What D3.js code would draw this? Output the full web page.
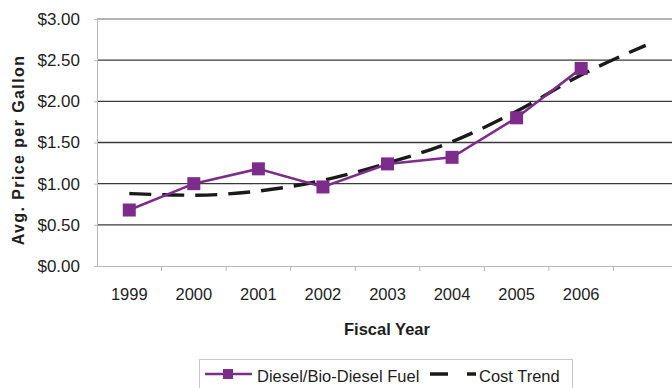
<!DOCTYPE html>
<html>
<head>
<meta charset="utf-8">
<script src="https://cdn.jsdelivr.net/npm/d3@7"></script>
<style>
  html, body { margin: 0; padding: 0; background: #fff; }
  svg { display: block; font-family: "Liberation Sans", Arial, sans-serif; }
</style>
</head>
<body>
<svg id="chart" width="672" height="388"></svg>
<script>
// Fiscal years shown on the x axis; the trend continues one slot further
const years = ["1999", "2000", "2001", "2002", "2003", "2004", "2005", "2006"];
const trendYears = ["1999", "2000", "2001", "2002", "2003", "2004", "2005", "2006", "2007"];
// Average diesel / bio-diesel price per gallon
const dieselPrice = [0.68, 1.00, 1.18, 0.96, 1.24, 1.32, 1.80, 2.40];
// Fitted cost trend
const costTrend = [0.88, 0.86, 0.91, 1.04, 1.25, 1.51, 1.88, 2.32, 2.68];
const yTicks = [0, 0.5, 1, 1.5, 2, 2.5, 3];

const svg = d3.select("#chart");
const plotLeft = 97, plotRight = 678, plotTop = 19, plotBottom = 266;
const ink = "#1e1e1e";

const x = d3.scaleBand().domain(trendYears).range([plotLeft, plotRight]).padding(0);
const y = d3.scaleLinear().domain([0, 3]).range([plotBottom, plotTop]);
const cx = d => x(d) + x.bandwidth() / 2;

// horizontal gridlines
svg.append("g").selectAll("line").data(yTicks.filter(t => t > 0 && t < 3)).join("line")
  .attr("x1", plotLeft).attr("x2", 672)
  .attr("y1", d => y(d)).attr("y2", d => y(d))
  .attr("stroke", "#3a3a3a").attr("stroke-width", 1.4);
// top border
svg.append("line").attr("x1", plotLeft).attr("x2", 672).attr("y1", y(3)).attr("y2", y(3))
  .attr("stroke", "#9a9a9a").attr("stroke-width", 1.3);

// y axis
const yAxis = svg.append("g").attr("transform", `translate(${plotLeft},0)`)
  .call(d3.axisLeft(y).tickValues(yTicks).tickSize(3).tickPadding(14)
    .tickFormat(d => "$" + d3.format(".2f")(d)));
yAxis.select(".domain").attr("stroke", "#b8b8b8");
yAxis.selectAll(".tick line").attr("stroke", "#b8b8b8");
yAxis.selectAll("text").attr("font-size", 17).attr("fill", ink);

// x axis
const xAxis = svg.append("g").attr("transform", `translate(0,${plotBottom})`)
  .call(d3.axisBottom(x).tickValues([]).tickSizeOuter(0));
xAxis.select(".domain").attr("stroke", "#b8b8b8");
xAxis.selectAll(".sep").data(trendYears.slice(1)).join("line")
  .attr("class", "sep")
  .attr("x1", d => x(d)).attr("x2", d => x(d))
  .attr("y1", 0).attr("y2", 5).attr("stroke", "#b8b8b8");
svg.append("g").selectAll("text").data(years).join("text")
  .attr("x", d => cx(d)).attr("y", 300)
  .attr("text-anchor", "middle").attr("font-size", 16.5).attr("fill", ink)
  .text(d => d);

// axis titles
svg.append("text").attr("x", 387).attr("y", 335).attr("text-anchor", "middle")
  .attr("font-size", 16.5).attr("font-weight", "bold").attr("fill", ink).text("Fiscal Year");
svg.append("text").attr("transform", "translate(24,150) rotate(-90)")
  .attr("text-anchor", "middle").attr("font-size", 16).attr("font-weight", "bold")
  .attr("letter-spacing", 1.4).attr("fill", ink).text("Avg. Price per Gallon");

// cost trend (dashed)
svg.append("path").datum(costTrend)
  .attr("fill", "none").attr("stroke", "#1a1a1a").attr("stroke-width", 3.4)
  .attr("stroke-dasharray", "22,11")
  .attr("d", d3.line().x((d, i) => cx(trendYears[i])).y(d => y(d)).curve(d3.curveMonotoneX));

// diesel price series
const purple = "#7d2c8c";
svg.append("path").datum(dieselPrice)
  .attr("fill", "none").attr("stroke", purple).attr("stroke-width", 2.6)
  .attr("d", d3.line().x((d, i) => cx(years[i])).y(d => y(d)));
svg.append("g").selectAll("rect").data(dieselPrice).join("rect")
  .attr("x", (d, i) => cx(years[i]) - 6.5).attr("y", d => y(d) - 6.5)
  .attr("width", 13).attr("height", 13).attr("fill", purple);

// legend
const lg = svg.append("g");
lg.append("rect").attr("x", 199.5).attr("y", 359.5).attr("width", 373).attr("height", 32)
  .attr("fill", "#fff").attr("stroke", "#c8c8c8");
lg.append("line").attr("x1", 205).attr("x2", 252).attr("y1", 374).attr("y2", 374)
  .attr("stroke", purple).attr("stroke-width", 2.6);
lg.append("rect").attr("x", 223).attr("y", 369).attr("width", 10).attr("height", 10).attr("fill", purple);
lg.append("text").attr("x", 257).attr("y", 382).attr("font-size", 16.5).attr("fill", ink)
  .text("Diesel/Bio-Diesel Fuel");
lg.append("line").attr("x1", 430).attr("x2", 476).attr("y1", 374).attr("y2", 374)
  .attr("stroke", "#1a1a1a").attr("stroke-width", 3.4).attr("stroke-dasharray", "18,19,9");
lg.append("text").attr("x", 479).attr("y", 382).attr("font-size", 16.5).attr("fill", ink)
  .text("Cost Trend");
</script>
</body>
</html>
